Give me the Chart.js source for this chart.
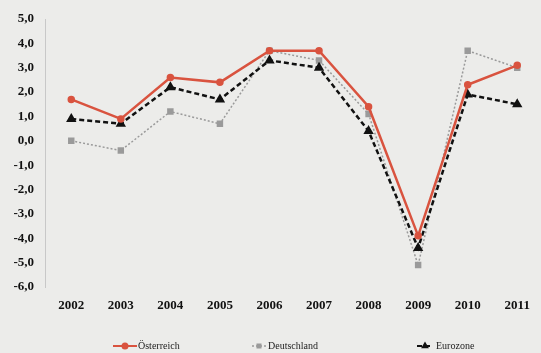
<!DOCTYPE html>
<html>
<head>
<meta charset="utf-8">
<script src="https://cdn.jsdelivr.net/npm/chart.js@4/dist/chart.umd.min.js"></script>
<style>
html,body{margin:0;padding:0;background:#ececea;}
#wrap{width:541px;height:353px;position:relative;}
</style>
</head>
<body>
<div id="wrap"><canvas id="c" width="541" height="353"></canvas></div>
<script>
const years = [2002, 2003, 2004, 2005, 2006, 2007, 2008, 2009, 2010, 2011];
const oesterreich = [1.7, 0.9, 2.6, 2.4, 3.7, 3.7, 1.4, -3.9, 2.3, 3.1];
const deutschland = [0.0, -0.4, 1.2, 0.7, 3.7, 3.3, 1.1, -5.1, 3.7, 3.0];
const eurozone = [0.9, 0.7, 2.2, 1.7, 3.3, 3.0, 0.4, -4.4, 1.9, 1.5];
const seriesNames = ['Österreich', 'Deutschland', 'Eurozone'];
const yTicks = [5, 4, 3, 2, 1, 0, -1, -2, -3, -4, -5, -6];

const pts = arr => arr.map((v, i) => ({x: years[i], y: v}));

const bgPlugin = {
  id: 'bg',
  beforeDraw(chart) {
    const ctx = chart.ctx;
    ctx.save();
    ctx.fillStyle = '#ececea';
    ctx.fillRect(0, 0, chart.width, chart.height);
    ctx.restore();
  }
};

const legendPlugin = {
  id: 'customLegend',
  afterDraw(chart) {
    const ctx = chart.ctx;
    const items = [
      {start: 113, lineLen: 24, textX: 138},
      {start: 252, lineLen: 14, textX: 268},
      {start: 417, lineLen: 16, textX: 436}
    ];
    const y = 346;
    ctx.save();
    chart.data.datasets.forEach((ds, i) => {
      const it = items[i];
      ctx.strokeStyle = ds.borderColor;
      ctx.lineWidth = Math.min(ds.borderWidth, 2);
      ctx.setLineDash(ds.borderDash || []);
      ctx.beginPath();
      ctx.moveTo(it.start, y);
      ctx.lineTo(it.start + it.lineLen, y);
      ctx.stroke();
      ctx.setLineDash([]);
      ctx.fillStyle = ds.pointBackgroundColor;
      ctx.strokeStyle = ds.pointBorderColor;
      Chart.helpers.drawPoint(ctx, {
        pointStyle: ds.pointStyle,
        radius: 2.5,
        borderWidth: 1
      }, it.start + it.lineLen / 2, y);
      ctx.fillStyle = '#222';
      ctx.font = '10px "Liberation Serif", serif';
      ctx.textBaseline = 'middle';
      ctx.fillText(ds.label, it.textX, y);
    });
    ctx.restore();
  }
};

new Chart(document.getElementById('c'), {
  type: 'line',
  data: {
    datasets: [
      {
        label: seriesNames[0],
        data: pts(oesterreich),
        borderColor: '#d9533f',
        backgroundColor: '#d9533f',
        pointBackgroundColor: '#d9533f',
        pointBorderColor: '#d9533f',
        borderWidth: 2.5,
        pointStyle: 'circle',
        pointRadius: 2.5,
        tension: 0,
        order: 0
      },
      {
        label: seriesNames[1],
        data: pts(deutschland),
        borderColor: '#9a9a9a',
        backgroundColor: '#9a9a9a',
        pointBackgroundColor: '#9a9a9a',
        pointBorderColor: '#9a9a9a',
        borderWidth: 1.5,
        borderDash: [2, 2],
        pointStyle: 'rect',
        pointRadius: 3.5,
        tension: 0,
        order: 2
      },
      {
        label: seriesNames[2],
        data: pts(eurozone),
        borderColor: '#111111',
        backgroundColor: '#111111',
        pointBackgroundColor: '#111111',
        pointBorderColor: '#111111',
        borderWidth: 2.5,
        borderDash: [5, 3],
        pointStyle: 'triangle',
        pointRadius: 3.5,
        tension: 0,
        order: 1
      }
    ]
  },
  options: {
    responsive: false,
    animation: false,
    layout: {padding: {left: 0, top: 19, right: 5, bottom: 36}},
    plugins: {legend: {display: false}, tooltip: {enabled: false}},
    scales: {
      x: {
        type: 'linear',
        min: 2001.47,
        max: 2011.18,
        afterBuildTicks(axis) { axis.ticks = years.map(v => ({value: v})); },
        afterFit(axis) { axis.height = 30; },
        grid: {display: false, drawTicks: false},
        border: {display: false},
        ticks: {
          padding: 11,
          color: '#111',
          font: {family: '"Liberation Serif", serif', size: 13, weight: 'bold'},
          callback: v => String(v),
          maxRotation: 0,
          autoSkip: false
        }
      },
      y: {
        min: -6,
        max: 5,
        afterBuildTicks(axis) { axis.ticks = yTicks.map(v => ({value: v})); },
        afterFit(axis) { axis.width = 45; },
        grid: {display: false, drawTicks: false},
        border: {display: true, color: '#c8c8c8', width: 1, dash: [2, 2]},
        ticks: {
          padding: 11,
          color: '#111',
          font: {family: '"Liberation Serif", serif', size: 13, weight: 'bold'},
          callback: v => v.toFixed(1).replace('.', ',')
        }
      }
    }
  },
  plugins: [bgPlugin, legendPlugin]
});
</script>
</body>
</html>
